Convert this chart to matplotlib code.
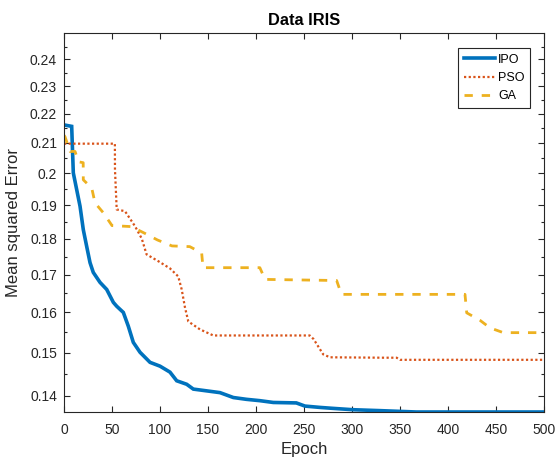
import matplotlib
matplotlib.use("Agg")
import matplotlib.pyplot as plt
from matplotlib.ticker import FixedLocator, FixedFormatter, NullFormatter

plt.rcParams['font.family'] = ['Liberation Sans', 'DejaVu Sans']

# ---- data ----
ipo_epoch = [0, 8, 9.7, 16.7, 20.1, 23.6, 27.1, 30.5, 37.5, 44.5, 51.4, 54.9, 61.8, 67, 72.2,
             79.2, 89.6, 100, 110.4, 117.4, 127.8, 134.7, 148.6, 162.5, 176.4, 190, 204, 218,
             242, 251, 267, 280, 301, 329, 367, 500]
ipo_mse = [0.2161, 0.2156, 0.2001, 0.1897, 0.1827, 0.1779, 0.1733, 0.1706, 0.1679, 0.1660,
           0.1626, 0.1616, 0.1600, 0.1565, 0.1525, 0.1501, 0.1477, 0.1468, 0.1454, 0.1434,
           0.1426, 0.1415, 0.1411, 0.1407, 0.1396, 0.1392, 0.1389, 0.1385, 0.1384, 0.1377,
           0.1374, 0.1372, 0.1369, 0.1367, 0.1364, 0.1364]

pso_epoch = [0, 53, 53.1, 54.9, 63.5, 74, 81, 86, 98.2, 110.4, 119, 122.6, 126, 129.5, 141.7,
             155.5, 256, 260, 270, 277, 332.6, 346.5, 350, 500]
pso_mse = [0.2097, 0.2097, 0.2011, 0.1887, 0.1882, 0.1837, 0.1801, 0.1756, 0.1737, 0.1717,
           0.1695, 0.1660, 0.1613, 0.1577, 0.1557, 0.1542, 0.1542, 0.1533, 0.1496, 0.1489,
           0.1488, 0.1488, 0.1483, 0.1483]

ga_epoch = [0, 1, 6.3, 11.5, 15, 20, 20.1, 28.9, 32.3, 41, 50, 70, 84.4, 97.4, 112.5, 131,
            143.4, 144.8, 204, 209.4, 284, 289, 417.7, 419.5, 433.3, 443.7, 457.6, 500]
ga_mse = [0.2125, 0.2121, 0.2071, 0.2071, 0.2037, 0.2034, 0.1979, 0.1953, 0.1907, 0.1877,
          0.1839, 0.1836, 0.1816, 0.1797, 0.1780, 0.1778, 0.1760, 0.1719, 0.1719, 0.1687,
          0.1684, 0.1647, 0.1647, 0.1599, 0.1580, 0.1561, 0.1549, 0.1549]

series_names = ["IPO", "PSO", "GA"]
y_ticks = [0.14, 0.15, 0.16, 0.17, 0.18, 0.19, 0.20, 0.21, 0.22, 0.23, 0.24]
y_minor = [0.145, 0.155, 0.165, 0.175, 0.185, 0.195, 0.205, 0.215, 0.225, 0.235, 0.245]
x_ticks = [0, 50, 100, 150, 200, 250, 300, 350, 400, 450, 500]

# ---- plot ----
W, H = 557, 459
fig = plt.figure(figsize=(W / 100, H / 100), dpi=100)
ax = fig.add_axes([64 / W, (H - 412) / H, (544 - 64) / W, (412 - 33) / H])

c_blue = '#0072BD'
c_red = '#D95319'
c_yel = '#EDB120'
axc = '#262626'

ax.plot(ipo_epoch, ipo_mse, color=c_blue, lw=2.6, solid_joinstyle='miter', label=series_names[0])
ax.plot(pso_epoch, pso_mse, color=c_red, lw=1.6, linestyle=(0, (1, 1.1)), label=series_names[1])
ax.plot(ga_epoch, ga_mse, color=c_yel, lw=2.0, linestyle=(0, (3.0, 3.2)), label=series_names[2])

ax.set_yscale('log')
ax.set_xlim(0, 500)
ax.set_ylim(min(ipo_mse), 0.2504)

ax.yaxis.set_major_locator(FixedLocator(y_ticks))
ax.yaxis.set_major_formatter(FixedFormatter(['%g' % v for v in y_ticks]))
ax.yaxis.set_minor_locator(FixedLocator(y_minor))
ax.yaxis.set_minor_formatter(NullFormatter())
ax.xaxis.set_major_locator(FixedLocator(x_ticks))
ax.xaxis.set_major_formatter(FixedFormatter([str(v) for v in x_ticks]))
ax.xaxis.set_minor_locator(FixedLocator([]))

ax.tick_params(which='both', direction='in', top=True, right=True, colors=axc,
               labelsize=10, width=0.8)
ax.tick_params(which='major', length=4.5)
ax.tick_params(axis='y', which='major', pad=5)
ax.tick_params(axis='x', which='major', pad=8)
ax.tick_params(which='minor', length=2.5)
for sp in ax.spines.values():
    sp.set_color(axc)
    sp.set_linewidth(0.8)

ax.set_title('Data IRIS', fontsize=11.8, fontweight='bold', color='black', pad=6)
ax.set_xlabel('Epoch', fontsize=12, color=axc, labelpad=3.5)
ax.set_ylabel('Mean squared Error', fontsize=12, color=axc, labelpad=6)

leg = ax.legend(loc='upper right', bbox_to_anchor=(0.971, 0.960), borderaxespad=0,
                fontsize=9, fancybox=False, framealpha=1, edgecolor=axc,
                handlelength=2.5, handletextpad=0.25, labelspacing=0.5,
                borderpad=0.45)
leg.get_frame().set_linewidth(0.8)

fig.savefig('out.png', dpi=100)
